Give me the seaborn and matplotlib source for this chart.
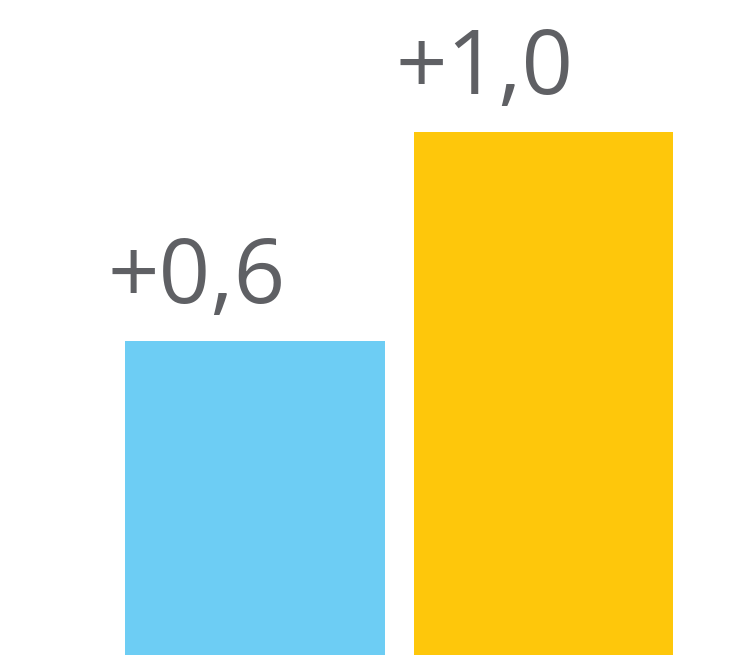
import matplotlib
matplotlib.use("Agg")
import matplotlib.pyplot as plt
import seaborn as sns
import pandas as pd

categories = ["A", "B"]
values = [0.6, 1.0]
labels = ["+0,6", "+1,0"]
colors = ["#6DCDF4", "#FEC70B"]

df = pd.DataFrame({"cat": categories, "val": values})

fig = plt.figure(figsize=(7.39, 6.55), dpi=100)
ax = fig.add_axes([0, 0, 1, 1])
sns.barplot(data=df, x="cat", y="val", hue="cat", palette=colors,
            width=0.9, legend=False, ax=ax, saturation=1)

ax.set_xlim(-0.885, 1.679)
ax.set_ylim(0, 655 / 523)
ax.axis("off")

bar_w = 0.9
for i, (v, lab) in enumerate(zip(values, labels)):
    ax.text(i - bar_w / 2 - 0.062, v + 0.073, lab, ha="left", va="baseline",
            fontsize=65, color="#5F6064", family=["Open Sans", "DejaVu Sans"])

fig.savefig("out.png", dpi=100)
